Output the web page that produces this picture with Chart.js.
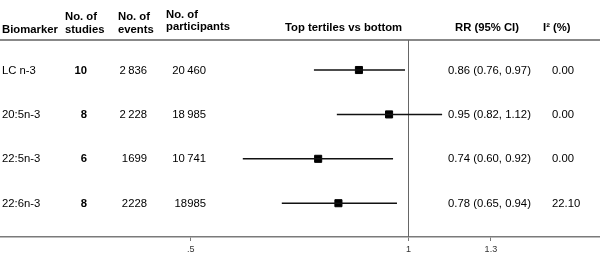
<!DOCTYPE html>
<html>
<head>
<meta charset="utf-8">
<script src="https://cdn.jsdelivr.net/npm/chart.js@4.4.1/dist/chart.umd.min.js"></script>
<style>
  html, body { margin: 0; padding: 0; background: #fff; }
  #wrap { width: 600px; height: 253px; }
</style>
</head>
<body>
<div id="wrap"><canvas id="forest" width="600" height="253"></canvas></div>
<script>
// Table data
const biomarkers = ['LC n-3', '20:5n-3', '22:5n-3', '22:6n-3'];
const studies = ['10', '8', '6', '8'];
const events = ['2\u2009836', '2\u2009228', '1699', '2228'];
const participants = ['20\u2009460', '18\u2009985', '10\u2009741', '18985'];
const rrText = ['0.86 (0.76, 0.97)', '0.95 (0.82, 1.12)', '0.74 (0.60, 0.92)', '0.78 (0.65, 0.94)'];
const i2Text = ['0.00', '0.00', '0.00', '22.10'];

// Plotted estimates
const rrPoint = [0.854, 0.94, 0.75, 0.80];
const ciLow = [0.74, 0.796, 0.59, 0.668];
const ciHigh = [0.989, 1.113, 0.952, 0.964];

// Axis ticks
const tickValues = [0.5, 1, 1.3];
const tickLabels = ['.5', '1', '1.3'];

const FONT = '"Liberation Sans", Arial, sans-serif';
const GREY = '#7a7a7a';
const HEADER_Y = 40;

// CI whiskers, one small line per row
const ciSets = biomarkers.map((b, i) => ({
    type: 'line',
    label: b,
    data: [{ x: ciLow[i], y: i + 1 }, { x: ciHigh[i], y: i + 1 }],
    borderColor: '#111',
    borderWidth: 1.5,
    pointRadius: 0,
    showLine: true
}));

const pointSet = {
    type: 'scatter',
    label: 'RR',
    data: rrPoint.map((v, i) => ({ x: v, y: i + 1 })),
    pointStyle: 'rect',
    pointRadius: 5,
    backgroundColor: '#000',
    borderColor: '#000',
    borderWidth: 1
};

function txt(ctx, s, x, y, align, bold, size) {
    ctx.font = (bold ? 'bold ' : '') + (size || 11.3) + 'px ' + FONT;
    ctx.textAlign = align || 'left';
    ctx.fillText(s, x, y);
}

const tablePlugin = {
    id: 'tablePlugin',
    beforeDatasetsDraw(chart) {
        const ctx = chart.ctx;
        const xs = chart.scales.x;
        const area = chart.chartArea;
        ctx.save();
        // header rule
        ctx.strokeStyle = '#888';
        ctx.lineWidth = 2;
        ctx.beginPath();
        ctx.moveTo(0, HEADER_Y);
        ctx.lineTo(600, HEADER_Y);
        ctx.stroke();
        // null line at RR = 1
        const x1 = Math.round(xs.getPixelForValue(1)) + 0.5;
        ctx.strokeStyle = '#666';
        ctx.lineWidth = 1;
        ctx.beginPath();
        ctx.moveTo(x1, HEADER_Y);
        ctx.lineTo(x1, area.bottom);
        ctx.stroke();
        ctx.restore();
    },
    afterDraw(chart) {
        const ctx = chart.ctx;
        const ys = chart.scales.y;
        ctx.save();
        ctx.fillStyle = '#000';
        ctx.textBaseline = 'alphabetic';
        // headers
        txt(ctx, 'Biomarker', 2, 33, 'left', true);
        txt(ctx, 'No. of', 65, 20, 'left', true);
        txt(ctx, 'studies', 65, 33, 'left', true);
        txt(ctx, 'No. of', 118, 20, 'left', true);
        txt(ctx, 'events', 118, 33, 'left', true);
        txt(ctx, 'No. of', 166, 18, 'left', true);
        txt(ctx, 'participants', 166, 30, 'left', true);
        txt(ctx, 'Top tertiles vs bottom', 285, 31, 'left', true);
        txt(ctx, 'RR (95% CI)', 455, 31, 'left', true);
        txt(ctx, 'I\u00B2 (%)', 543, 31, 'left', true);
        // rows
        ctx.textBaseline = 'middle';
        biomarkers.forEach((b, i) => {
            const y = ys.getPixelForValue(i + 1) + 0.5;
            txt(ctx, b, 2, y, 'left');
            txt(ctx, studies[i], 87, y, 'right', true);
            txt(ctx, events[i], 147, y, 'right');
            txt(ctx, participants[i], 206, y, 'right');
            txt(ctx, rrText[i], 448, y, 'left');
            txt(ctx, i2Text[i], 552, y, 'left');
        });
        ctx.restore();
    }
};

new Chart(document.getElementById('forest'), {
    type: 'scatter',
    data: { datasets: [...ciSets, pointSet] },
    options: {
        responsive: false,
        animation: false,
        devicePixelRatio: 1,
        layout: { padding: 0, autoPadding: false },
        plugins: {
            legend: { display: false },
            tooltip: { enabled: false }
        },
        scales: {
            x: {
                type: 'logarithmic',
                min: 0.2723,
                max: 1.8402,
                afterBuildTicks(scale) {
                    scale.ticks = tickValues.map(v => ({ value: v }));
                },
                afterFit(scale) {
                    scale.height = 16;
                },
                ticks: {
                    autoSkip: false,
                    maxRotation: 0,
                    padding: 3.5,
                    color: '#333',
                    font: { family: FONT, size: 9 },
                    callback: (v) => {
                        const k = tickValues.indexOf(v);
                        return k >= 0 ? tickLabels[k] : '';
                    }
                },
                grid: {
                    drawOnChartArea: false,
                    drawTicks: true,
                    tickLength: 4,
                    color: GREY,
                    lineWidth: 1
                },
                border: { display: true, color: GREY, width: 1.5 }
            },
            y: {
                type: 'linear',
                display: false,
                reverse: true,
                min: -0.577,
                max: 4.761
            }
        }
    },
    plugins: [tablePlugin]
});
</script>
</body>
</html>
